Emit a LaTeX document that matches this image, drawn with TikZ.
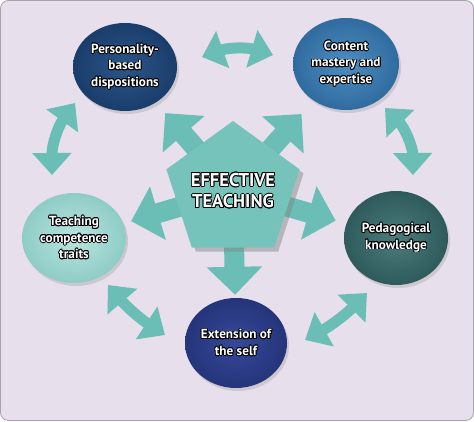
\documentclass[tikz,border=0pt]{standalone}
\usepackage{fontspec}
\setmainfont{PT Sans}
\usepackage[copies]{contour}
\contourlength{0.85pt}
\contournumber{12}
\usetikzlibrary{shapes.geometric,arrows.meta,shadows,backgrounds}
\definecolor{bgc}{HTML}{E7DFEC}
\definecolor{framec}{HTML}{A8A2AC}
\definecolor{arrowc}{HTML}{6BBEB5}
\definecolor{pentc}{HTML}{75C3BA}
\definecolor{persin}{HTML}{2B5689}
\definecolor{persout}{HTML}{1A3D6B}
\definecolor{contin}{HTML}{4C8EC2}
\definecolor{contout}{HTML}{306B9F}
\definecolor{pedin}{HTML}{4B7D7D}
\definecolor{pedout}{HTML}{2E5A5B}
\definecolor{teachin}{HTML}{B8E4DF}
\definecolor{teachout}{HTML}{8FCCC6}
\definecolor{extin}{HTML}{35489B}
\definecolor{extout}{HTML}{25357A}
\newcommand{\olt}[1]{\contour{black}{#1}}
\newcommand{\olz}[1]{\makebox[0pt]{\contour{black}{#1}}}
\begin{document}
\begin{tikzpicture}[x=1pt,y=1pt,
  bubble/.style={ellipse, inner sep=0pt, align=center, text=white,
    font=\bfseries\fontsize{13.2}{16.5}\selectfont,
    drop shadow={shadow xshift=2pt,shadow yshift=-3pt,opacity=0.25}},
  pent/.style={regular polygon, regular polygon sides=5, minimum size=140pt,
    inner sep=0pt, fill=pentc, align=center, text=white,
    font=\bfseries\fontsize{18.5}{21.5}\selectfont,
    drop shadow={shadow xshift=4pt,shadow yshift=-4pt,opacity=0.45}},
  bigarrow/.style={draw=arrowc, line width=20pt,
    -{Triangle[length=28pt,width=54pt]}},
  dblarrow/.style={draw=arrowc, line width=11pt,
    {Triangle[length=22pt,width=38pt]}-{Triangle[length=22pt,width=38pt]}}]
\useasboundingbox (0,0) rectangle (474,421);

% nodes
\node[bubble, minimum width=104pt, minimum height=88pt, shading=radial,
  inner color=persin, outer color=persout] (pers) at (125,354)
  {\olt{Personality-}\\\olt{based}\\\olt{dispositions}};
\node[bubble, minimum width=106pt, minimum height=92pt, shading=radial,
  inner color=contin, outer color=contout] (cont) at (346,357)
  {\olt{Content}\\\olt{mastery and}\\\olt{expertise}};
\node[bubble, minimum width=104pt, minimum height=94pt, shading=radial,
  inner color=pedin, outer color=pedout] (ped) at (396,183)
  {\olt{Pedagogical}\\\olt{knowledge}};
\node[bubble, minimum width=104pt, minimum height=90pt, shading=radial,
  inner color=teachin, outer color=teachout] (teach) at (74,183)
  {\olt{Teaching}\\\olt{competence}\\\olt{traits}};
\node[bubble, minimum width=102pt, minimum height=90pt, shading=radial,
  inner color=extin, outer color=extout] (ext) at (236,78)
  {\olt{Extension of}\\\olt{the self}};
\node[pent] (et) at (233,230) {\olz{EFFECTIVE}\\\olz{TEACHING}};

% free ends of the double arrows
\coordinate (d1a) at (202,364);
\coordinate (d1b) at (273,366);
\coordinate (d2a) at (385,313);
\coordinate (d2b) at (413,246);
\coordinate (d3a) at (75,318);
\coordinate (d3b) at (52,246);
\coordinate (d4a) at (108,136);
\coordinate (d4b) at (165,86);
\coordinate (d5a) at (305,81);
\coordinate (d5b) at (367,128);

\begin{pgfonlayer}{background}
  \fill[bgc, draw=framec, line width=0.8pt, rounded corners=8pt]
    (0.5,0.5) rectangle (473.5,420.5);
  % arrows from the centre
  \draw[bigarrow, shorten >=14pt] (et.center) -- (pers);
  \draw[bigarrow, shorten >=18pt] (et.center) -- (cont);
  \draw[bigarrow, shorten >=8pt] (et.center) -- (teach);
  \draw[bigarrow, shorten >=11pt] (et.center) -- (ped);
  \draw[bigarrow, shorten >=3pt] (et.center) -- (ext);
  % double arrows between neighbours
  \draw[dblarrow] (d1a) to[bend left=18] (d1b);
  \draw[dblarrow] (d2a) to[bend left=22] (d2b);
  \draw[dblarrow] (d3a) to[bend right=18] (d3b);
  \draw[dblarrow] (d4a) to[bend right=8] (d4b);
  \draw[dblarrow] (d5a) to[bend right=8] (d5b);
\end{pgfonlayer}
\end{tikzpicture}
\end{document}
